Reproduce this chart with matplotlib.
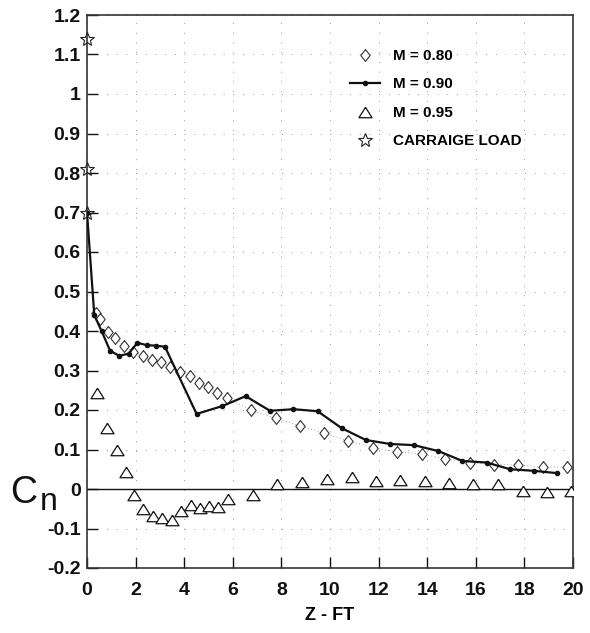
import matplotlib
matplotlib.use("Agg")
import matplotlib.pyplot as plt
import numpy as np

# Normal-force coefficient along the store, Z in feet
z_m080 = [0.35, 0.55, 0.85, 1.15, 1.52, 1.9, 2.3, 2.66, 3.05, 3.42, 3.83, 4.24, 4.62,
          4.99, 5.36, 5.75, 6.74, 7.76, 8.77, 9.77, 10.75, 11.76, 12.74, 13.77, 14.73,
          15.76, 16.76, 17.75, 18.75, 19.74]
cn_m080 = [0.445, 0.43, 0.398, 0.383, 0.363, 0.348, 0.337, 0.327, 0.321, 0.31, 0.297,
           0.287, 0.269, 0.257, 0.244, 0.23, 0.20, 0.179, 0.16, 0.141, 0.122, 0.105,
           0.094, 0.089, 0.076, 0.067, 0.062, 0.061, 0.055, 0.056]

z_m090 = [0.0, 0.3, 0.6, 0.95, 1.33, 1.72, 2.07, 2.48, 2.84, 3.21, 4.51, 5.57, 6.53,
          7.53, 8.49, 9.49, 10.48, 11.48, 12.47, 13.46, 14.46, 15.45, 16.45, 17.41,
          18.40, 19.36]
cn_m090 = [0.70, 0.44, 0.40, 0.35, 0.337, 0.343, 0.37, 0.364, 0.363, 0.36, 0.19, 0.21,
           0.235, 0.198, 0.202, 0.197, 0.154, 0.124, 0.114, 0.111, 0.096, 0.071, 0.067,
           0.05, 0.046, 0.040]

z_m095 = [0.4, 0.84, 1.22, 1.6, 1.93, 2.32, 2.7, 3.07, 3.48, 3.87, 4.27, 4.65, 5.0, 5.4,
          5.79, 6.82, 7.82, 8.84, 9.87, 10.9, 11.9, 12.9, 13.9, 14.9, 15.9, 16.93,
          17.96, 18.94, 19.93]
cn_m095 = [0.242, 0.155, 0.099, 0.044, -0.015, -0.051, -0.068, -0.073, -0.078, -0.055,
           -0.041, -0.049, -0.042, -0.045, -0.026, -0.015, 0.012, 0.018, 0.026, 0.030,
           0.021, 0.024, 0.02, 0.014, 0.013, 0.012, -0.004, -0.007, -0.004]

z_carriage = [0.0, 0.0, 0.0]
cn_carriage = [1.14, 0.81, 0.70]

x_ticks = [0, 2, 4, 6, 8, 10, 12, 14, 16, 18, 20]
y_ticks = [-0.2, -0.1, 0, 0.1, 0.2, 0.3, 0.4, 0.5, 0.6, 0.7, 0.8, 0.9, 1, 1.1, 1.2]
y_tick_labels = ["-0.2", "-0.1", "0", "0.1", "0.2", "0.3", "0.4", "0.5", "0.6", "0.7",
                 "0.8", "0.9", "1", "1.1", "1.2"]
series_labels = ["M = 0.80", "M = 0.90", "M = 0.95", "CARRAIGE LOAD"]

plt.rcParams["font.family"] = ["Liberation Sans", "DejaVu Sans"]

# open marker shapes: a slightly tall diamond and a slightly flat triangle
diamond = [(0, 1), (0.78, 0), (0, -1), (-0.78, 0), (0, 1)]
triangle = [(0, 0.8), (1, -0.8), (-1, -0.8), (0, 0.8)]

W, H = 590, 633
fig = plt.figure(figsize=(W / 100, H / 100), dpi=100)
ax = fig.add_axes([87 / W, 1 - 568 / H, (573 - 87) / W, (568 - 15) / H])

ax.set_xlim(0, 20)
ax.set_ylim(-0.2, 1.2)
ax.set_xticks(x_ticks)
ax.set_xticklabels([str(t) for t in x_ticks])
ax.set_yticks(y_ticks)
ax.set_yticklabels(y_tick_labels)
ax.tick_params(axis="both", direction="in", length=8, width=1.0, top=False,
               right=False, labelsize=14, colors="#111111")
ax.tick_params(axis="x", pad=10)
ax.tick_params(axis="y", pad=4.5)
for lab in ax.get_xticklabels() + ax.get_yticklabels():
    lab.set_fontweight("bold")

ax.grid(True, linestyle=(0, (1, 9)), color="#9a9a9a", linewidth=0.7)
ax.set_axisbelow(True)
for s in ax.spines.values():
    s.set_linewidth(1.2)
    s.set_color("#333333")

ax.axhline(0, color="#111111", linewidth=1.0, zorder=1.5)

ax.plot(z_m080, cn_m080, linestyle=(0, (1, 3)), linewidth=0.6, color="#888888",
        marker=diamond, markersize=8.6, markerfacecolor="white",
        markeredgecolor="#333333", markeredgewidth=0.8, label=series_labels[0],
        zorder=3)
ax.plot(z_m090, cn_m090, linestyle="-", linewidth=1.6, color="#111111",
        marker="o", markersize=3, markerfacecolor="#111111", label=series_labels[1],
        zorder=4)
ax.plot(z_m095, cn_m095, linestyle="none", marker=triangle, markersize=9.4,
        markerfacecolor="white", markeredgecolor="#111111", markeredgewidth=0.9,
        label=series_labels[2], zorder=3)
ax.plot(z_carriage, cn_carriage, linestyle="none", marker="*", markersize=10,
        markerfacecolor="none", markeredgecolor="#222222", markeredgewidth=0.8,
        label=series_labels[3], zorder=5, clip_on=False)

leg = ax.legend(loc="upper left", bbox_to_anchor=(0.519, 0.958), frameon=False,
                handlelength=2.0, handletextpad=0.85, labelspacing=0.95,
                borderpad=0.2, prop={"size": 11, "weight": "bold"})
leg.legend_handles[0].set_linestyle("none")

# axis symbol C_n: large C with a nearly full-size subscript n
fig.text(10 / W, 1 - 503 / H, "C", fontsize=27, va="baseline", ha="left",
         color="#111111")
fig.text(40 / W, 1 - 510 / H, "n", fontsize=23, va="baseline", ha="left",
         color="#111111")
ax.set_xlabel("Z - FT", fontsize=13, fontweight="bold", labelpad=6)

fig.savefig("out.png", dpi=100)
